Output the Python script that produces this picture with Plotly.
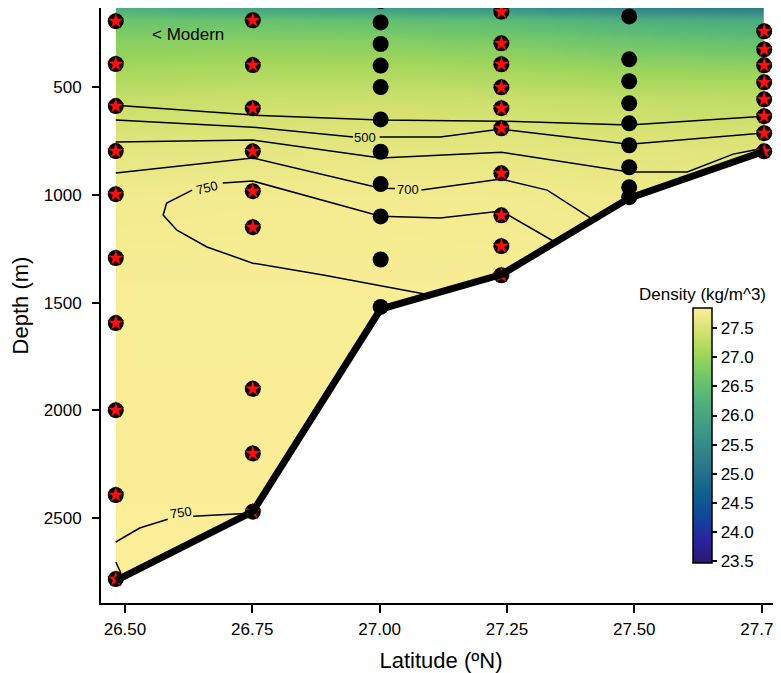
import plotly.graph_objects as go

# ---------------- data ----------------
station_lat = [26.482, 26.751, 27.002, 27.239, 27.49, 27.755]
bottom_depth = [2790, 2470, 1530, 1370, 1015, 798]

# sample depths per station (m)
st1_depth = [194, 393, 588, 797, 997, 1293, 1595, 1999, 2393, 2783]
st2_depth = [95, 190, 398, 598, 798, 983, 1150, 1900, 2200, 2470]
st3_depth = [100, 200, 300, 400, 500, 650, 800, 950, 1100, 1300, 1520]
st4_depth = [150, 297, 394, 501, 598, 691, 900, 1095, 1238, 1373]
st5_depth = [172, 371, 473, 575, 668, 770, 872, 965, 1011]
st6_depth = [241, 325, 399, 478, 557, 635, 714, 798]
station_depths = [st1_depth, st2_depth, st3_depth, st4_depth, st5_depth, st6_depth]
station_has_star = [True, True, False, True, False, True]

# density field (kg/m^3) on grid: rows = grid_depth, columns = station_lat
grid_depth = [133, 190, 280, 420, 560, 800, 1030, 1500, 2000, 2900]
dens_st1 = [26.20, 26.60, 26.85, 27.10, 27.35, 27.60, 27.75, 27.80, 27.82, 27.84]
dens_st2 = [26.00, 26.55, 26.85, 27.15, 27.38, 27.62, 27.76, 27.80, 27.82, 27.84]
dens_st3 = [25.80, 26.50, 26.82, 27.15, 27.40, 27.63, 27.76, 27.80, 27.82, 27.84]
dens_st4 = [25.65, 26.40, 26.75, 27.10, 27.38, 27.62, 27.75, 27.80, 27.82, 27.84]
dens_st5 = [25.35, 26.20, 26.60, 27.00, 27.32, 27.58, 27.72, 27.80, 27.82, 27.84]
dens_st6 = [25.20, 26.10, 26.50, 26.98, 27.30, 27.55, 27.70, 27.80, 27.82, 27.84]
dens_cols = [dens_st1, dens_st2, dens_st3, dens_st4, dens_st5, dens_st6]

# contour lines (lat, depth); None = gap for label
iso_a_lat = [26.482, 26.751, 27.002, 27.239, 27.49, 27.755]
iso_a_dep = [584, 630, 653, 658, 676, 635]
iso_b_lat = [26.482, 26.751, 26.948, None, 27.0, 27.119, 27.239, 27.49, 27.755]
iso_b_dep = [653, 686, 732, None, 732, 732, 695, 765, 713]
iso_c_lat = [26.482, 26.751, 27.002, 27.239, 27.49, 27.604, 27.694, 27.755]
iso_c_dep = [755, 746, 829, 802, 894, 894, 811, 783]
iso_d_lat = [26.482, 26.751, 27.002, 27.03, None, 27.082, 27.239, 27.329, 27.419]
iso_d_dep = [899, 829, 969, 971, None, 978, 927, 978, 1115]
iso_e_lat = [27.345, 27.239, 27.119, 27.002, 26.751, 26.692, None, 26.632, 26.582,
             26.575, 26.602, 26.661, 26.751, 26.889, 27.099]
iso_e_dep = [1220, 1075, 1108, 1099, 936, 945, None, 978, 1038,
             1094, 1164, 1242, 1317, 1372, 1465]
iso_f_lat = [26.482, 26.529, 26.584, None, 26.634, 26.745, 26.751, None, 26.482, 26.492]
iso_f_dep = [2611, 2546, 2505, None, 2491, 2477, 2467, None, 2704, 2755]

contour_labels = ["500", "700", "750", "750"]
label_lat = [26.972, 27.056, 26.662, 26.610]
label_dep = [733, 975, 966, 2475]
label_angle = [0, 0, -14, -8]

x_range = [26.453, 27.788]
y_range = [2894, 133]

haline = ['rgb(41,24,107)', 'rgb(42,35,160)', 'rgb(15,71,153)', 'rgb(18,95,142)',
          'rgb(38,116,137)', 'rgb(53,136,136)', 'rgb(65,157,133)', 'rgb(81,178,124)',
          'rgb(111,198,107)', 'rgb(160,214,91)', 'rgb(212,225,112)', 'rgb(253,238,153)']
colorscale = [[i / (len(haline) - 1), c] for i, c in enumerate(haline)]

FONT = "Liberation Sans, Arial, Helvetica, sans-serif"

# ---------------- figure ----------------
z = [[dens_cols[j][i] for j in range(len(station_lat))] for i in range(len(grid_depth))]

fig = go.Figure()

fig.add_trace(go.Contour(
    x=station_lat, y=grid_depth, z=z,
    colorscale=colorscale, zmin=23.47, zmax=27.845,
    contours=dict(coloring="heatmap", showlines=False),
    line=dict(width=0),
    colorbar=dict(
        x=0.8706, xanchor="left", xpad=0,
        y=0.4958, yanchor="top", ypad=0,
        len=255, lenmode="pixels", thickness=19,
        outlinewidth=1.5, outlinecolor="black",
        tickvals=[23.5, 24.0, 24.5, 25.0, 25.5, 26.0, 26.5, 27.0, 27.5],
        ticktext=["23.5", "24.0", "24.5", "25.0", "25.5", "26.0", "26.5", "27.0", "27.5"],
        ticks="outside", ticklen=5, tickwidth=1.5, tickcolor="black",
        tickfont=dict(family=FONT, size=17, color="black"),
    ),
    hoverinfo="skip",
))

# white mask below the sea floor
mask_lat = station_lat + [station_lat[-1], station_lat[0]]
mask_dep = bottom_depth + [y_range[0] + 50, y_range[0] + 50]
fig.add_trace(go.Scatter(
    x=mask_lat, y=mask_dep, mode="lines", fill="toself",
    fillcolor="white", line=dict(width=0, color="white"), hoverinfo="skip",
))

for lx, ly in [(iso_a_lat, iso_a_dep), (iso_b_lat, iso_b_dep), (iso_c_lat, iso_c_dep),
               (iso_d_lat, iso_d_dep), (iso_e_lat, iso_e_dep), (iso_f_lat, iso_f_dep)]:
    fig.add_trace(go.Scatter(x=lx, y=ly, mode="lines",
                             line=dict(color="black", width=1.5),
                             connectgaps=False, hoverinfo="skip"))

# sample markers
for lat, deps, star in zip(station_lat, station_depths, station_has_star):
    fig.add_trace(go.Scatter(
        x=[lat] * len(deps), y=deps, mode="markers",
        marker=dict(symbol="circle", size=16, color="black", line=dict(width=0)),
        hoverinfo="skip"))
    if star:
        fig.add_trace(go.Scatter(
            x=[lat] * len(deps), y=deps, mode="markers",
            marker=dict(symbol="star", size=12, color="#ff1010",
                        line=dict(width=0.5, color="#400000")),
            hoverinfo="skip"))

# sea floor
fig.add_trace(go.Scatter(
    x=station_lat, y=bottom_depth, mode="lines",
    line=dict(color="black", width=7), hoverinfo="skip"))

annotations = []
for t, la, de, ang in zip(contour_labels, label_lat, label_dep, label_angle):
    annotations.append(dict(x=la, y=de, xref="x", yref="y", text=t, showarrow=False,
                            textangle=ang, font=dict(family=FONT, size=13, color="black")))
annotations.append(dict(x=26.549, y=254, xref="x", yref="y", text="< Modern",
                        xanchor="left", showarrow=False,
                        font=dict(family=FONT, size=17, color="black")))
annotations.append(dict(x=0.885, y=0.519, xref="paper", yref="paper",
                        xanchor="center", yanchor="middle",
                        text="Density (kg/m^3)", showarrow=False,
                        font=dict(family=FONT, size=17, color="black")))

fig.update_layout(
    template="none",
    width=781, height=673,
    margin=dict(l=93, r=8, t=0, b=78, autoexpand=False),
    paper_bgcolor="white", plot_bgcolor="white",
    showlegend=False,
    font=dict(family=FONT, color="black"),
    annotations=annotations,
    xaxis=dict(
        range=x_range, showgrid=False, zeroline=False, automargin=False,
        tickvals=[26.50, 26.75, 27.00, 27.25, 27.50, 27.75],
        ticktext=["26.50", "26.75", "27.00", "27.25", "27.50", "27.75"],
        ticks="outside", ticklen=8, tickwidth=2, tickcolor="black",
        ticklabeloverflow="allow", ticklabelstandoff=2,
        showline=True, linewidth=2, linecolor="black",
        tickfont=dict(family=FONT, size=17, color="black"),
        title=dict(text="Latitude (ºN)", font=dict(family=FONT, size=22, color="black"),
                   standoff=14),
    ),
    yaxis=dict(
        range=y_range, showgrid=False, zeroline=False, automargin=False,
        tickvals=[500, 1000, 1500, 2000, 2500],
        ticks="outside", ticklen=7, tickwidth=2, tickcolor="black",
        ticklabeloverflow="allow", ticklabelstandoff=7,
        showline=True, linewidth=2, linecolor="black",
        tickfont=dict(family=FONT, size=17, color="black"),
        title=dict(text="Depth (m)", font=dict(family=FONT, size=22, color="black"),
                   standoff=12),
    ),
)

fig.write_html("out.html")
